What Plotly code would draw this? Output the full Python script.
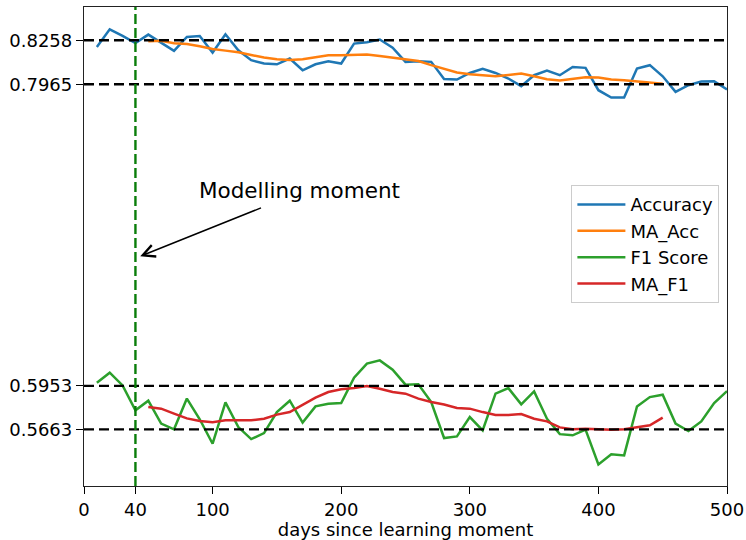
import plotly.graph_objects as go

# ---------------- data ----------------
days = list(range(10, 501, 10))
accuracy = [0.8213, 0.8331, 0.8287, 0.8240, 0.8296, 0.8240, 0.8187, 0.8280, 0.8287, 0.8176,
            0.8298, 0.8191, 0.8125, 0.8103, 0.8098, 0.8136, 0.8058, 0.8098, 0.8118, 0.8103,
            0.8236, 0.8245, 0.8263, 0.8209, 0.8114, 0.8118, 0.8114, 0.8000, 0.7996, 0.8040,
            0.8067, 0.8040, 0.8003, 0.7952, 0.8025, 0.8056, 0.8025, 0.8080, 0.8074, 0.7925,
            0.7876, 0.7876, 0.8070, 0.8092, 0.8018, 0.7914, 0.7958, 0.7983, 0.7985, 0.7930]
f1_score = [0.5974, 0.6041, 0.5956, 0.5790, 0.5854, 0.5701, 0.5663, 0.5868, 0.5730, 0.5567,
            0.5843, 0.5678, 0.5598, 0.5638, 0.5778, 0.5854, 0.5708, 0.5816, 0.5834, 0.5838,
            0.6008, 0.6101, 0.6123, 0.6061, 0.5961, 0.5963, 0.5845, 0.5605, 0.5616, 0.5745,
            0.5656, 0.5901, 0.5938, 0.5830, 0.5916, 0.5734, 0.5631, 0.5623, 0.5661, 0.5429,
            0.5496, 0.5489, 0.5816, 0.5878, 0.5894, 0.5701, 0.5652, 0.5716, 0.5838, 0.5918]

ma_days = list(range(50, 451, 10))
ma_acc = [0.8251, 0.8255, 0.8238, 0.8233, 0.8218, 0.8200, 0.8189, 0.8178, 0.8160, 0.8143,
          0.8132, 0.8127, 0.8132, 0.8147, 0.8158, 0.8158, 0.8158, 0.8163, 0.8153, 0.8143,
          0.8132, 0.8120, 0.8092, 0.8065, 0.8043, 0.8032, 0.8025, 0.8018, 0.8027, 0.8036,
          0.8018, 0.7998, 0.7990, 0.8000, 0.8012, 0.8010, 0.7996, 0.7992, 0.7983, 0.7972,
          0.7968]
ma_f1 = [0.5812, 0.5801, 0.5768, 0.5736, 0.5718, 0.5710, 0.5723, 0.5725, 0.5723, 0.5734,
         0.5761, 0.5778, 0.5828, 0.5874, 0.5912, 0.5930, 0.5938, 0.5952, 0.5934, 0.5912,
         0.5901, 0.5868, 0.5845, 0.5828, 0.5805, 0.5801, 0.5778, 0.5758, 0.5758, 0.5765,
         0.5734, 0.5716, 0.5676, 0.5663, 0.5667, 0.5663, 0.5661, 0.5663, 0.5674, 0.5690,
         0.5741]

ref_levels = [0.8258, 0.7965, 0.5953, 0.5663]
modelling_day = 40
x_ticks = [0, 40, 100, 200, 300, 400, 500]

FONT = "DejaVu Sans"

fig = go.Figure()
series = [
    ("Accuracy", days, accuracy, "#1f77b4"),
    ("MA_Acc", ma_days, ma_acc, "#ff7f0e"),
    ("F1 Score", days, f1_score, "#2ca02c"),
    ("MA_F1", ma_days, ma_f1, "#d62728"),
]
for name, xs, ys, col in series:
    fig.add_trace(go.Scatter(x=xs, y=ys, mode="lines", name=name,
                             line=dict(color=col, width=2.5)))

for lv in ref_levels:
    fig.add_shape(type="line", xref="paper", yref="y", x0=0, x1=1, y0=lv, y1=lv,
                  line=dict(color="black", width=2.4, dash="10px,5px"), layer="above")

fig.add_shape(type="line", xref="x", yref="paper", x0=modelling_day, x1=modelling_day,
              y0=0, y1=1, line=dict(color="#0a7d0a", width=2.4, dash="10px,4px"), layer="above")

# annotation text + arrow
fig.add_annotation(x=167.6, y=0.7257, xref="x", yref="y", text="Modelling moment",
                   showarrow=False, font=dict(family=FONT, size=21.5, color="black"))
fig.add_annotation(x=43.7, y=0.6817, ax=138.8, ay=0.7144, xref="x", yref="y",
                   axref="x", ayref="y", text="", showarrow=True, arrowhead=5,
                   arrowsize=1.6, arrowwidth=1.5, arrowcolor="black")

fig.update_layout(
    width=746, height=540,
    margin=dict(l=84, r=19, t=7, b=54, autoexpand=False),
    plot_bgcolor="white", paper_bgcolor="white",
    font=dict(family=FONT, size=18, color="black"),
    showlegend=True,
    legend=dict(x=0.758, y=0.628, xanchor="left", yanchor="top", itemwidth=48,
                bgcolor="rgba(255,255,255,0.8)", bordercolor="#cccccc", borderwidth=1,
                font=dict(family=FONT, size=18)),
)
fig.update_xaxes(range=[0, 500], tickvals=x_ticks, ticktext=[str(t) for t in x_ticks],
                 ticks="outside", ticklen=7, tickwidth=1.3, tickcolor="black",
                 showline=True, linecolor="#222222", linewidth=1.3, mirror=True,
                 showgrid=False, zeroline=False, automargin=False,
                 title=dict(text="days since learning moment", font=dict(size=18), standoff=2))
fig.update_yaxes(range=[0.5285, 0.8480], tickvals=ref_levels,
                 ticktext=[f"{v:.4f}" for v in ref_levels],
                 ticks="outside", ticklen=7, tickwidth=1.3, tickcolor="black",
                 showline=True, linecolor="#222222", linewidth=1.3, mirror=True,
                 showgrid=False, zeroline=False, automargin=False)

fig.write_html("out.html", config={"displayModeBar": False},
               post_script="document.body.style.margin='0';document.body.style.padding='0';")
